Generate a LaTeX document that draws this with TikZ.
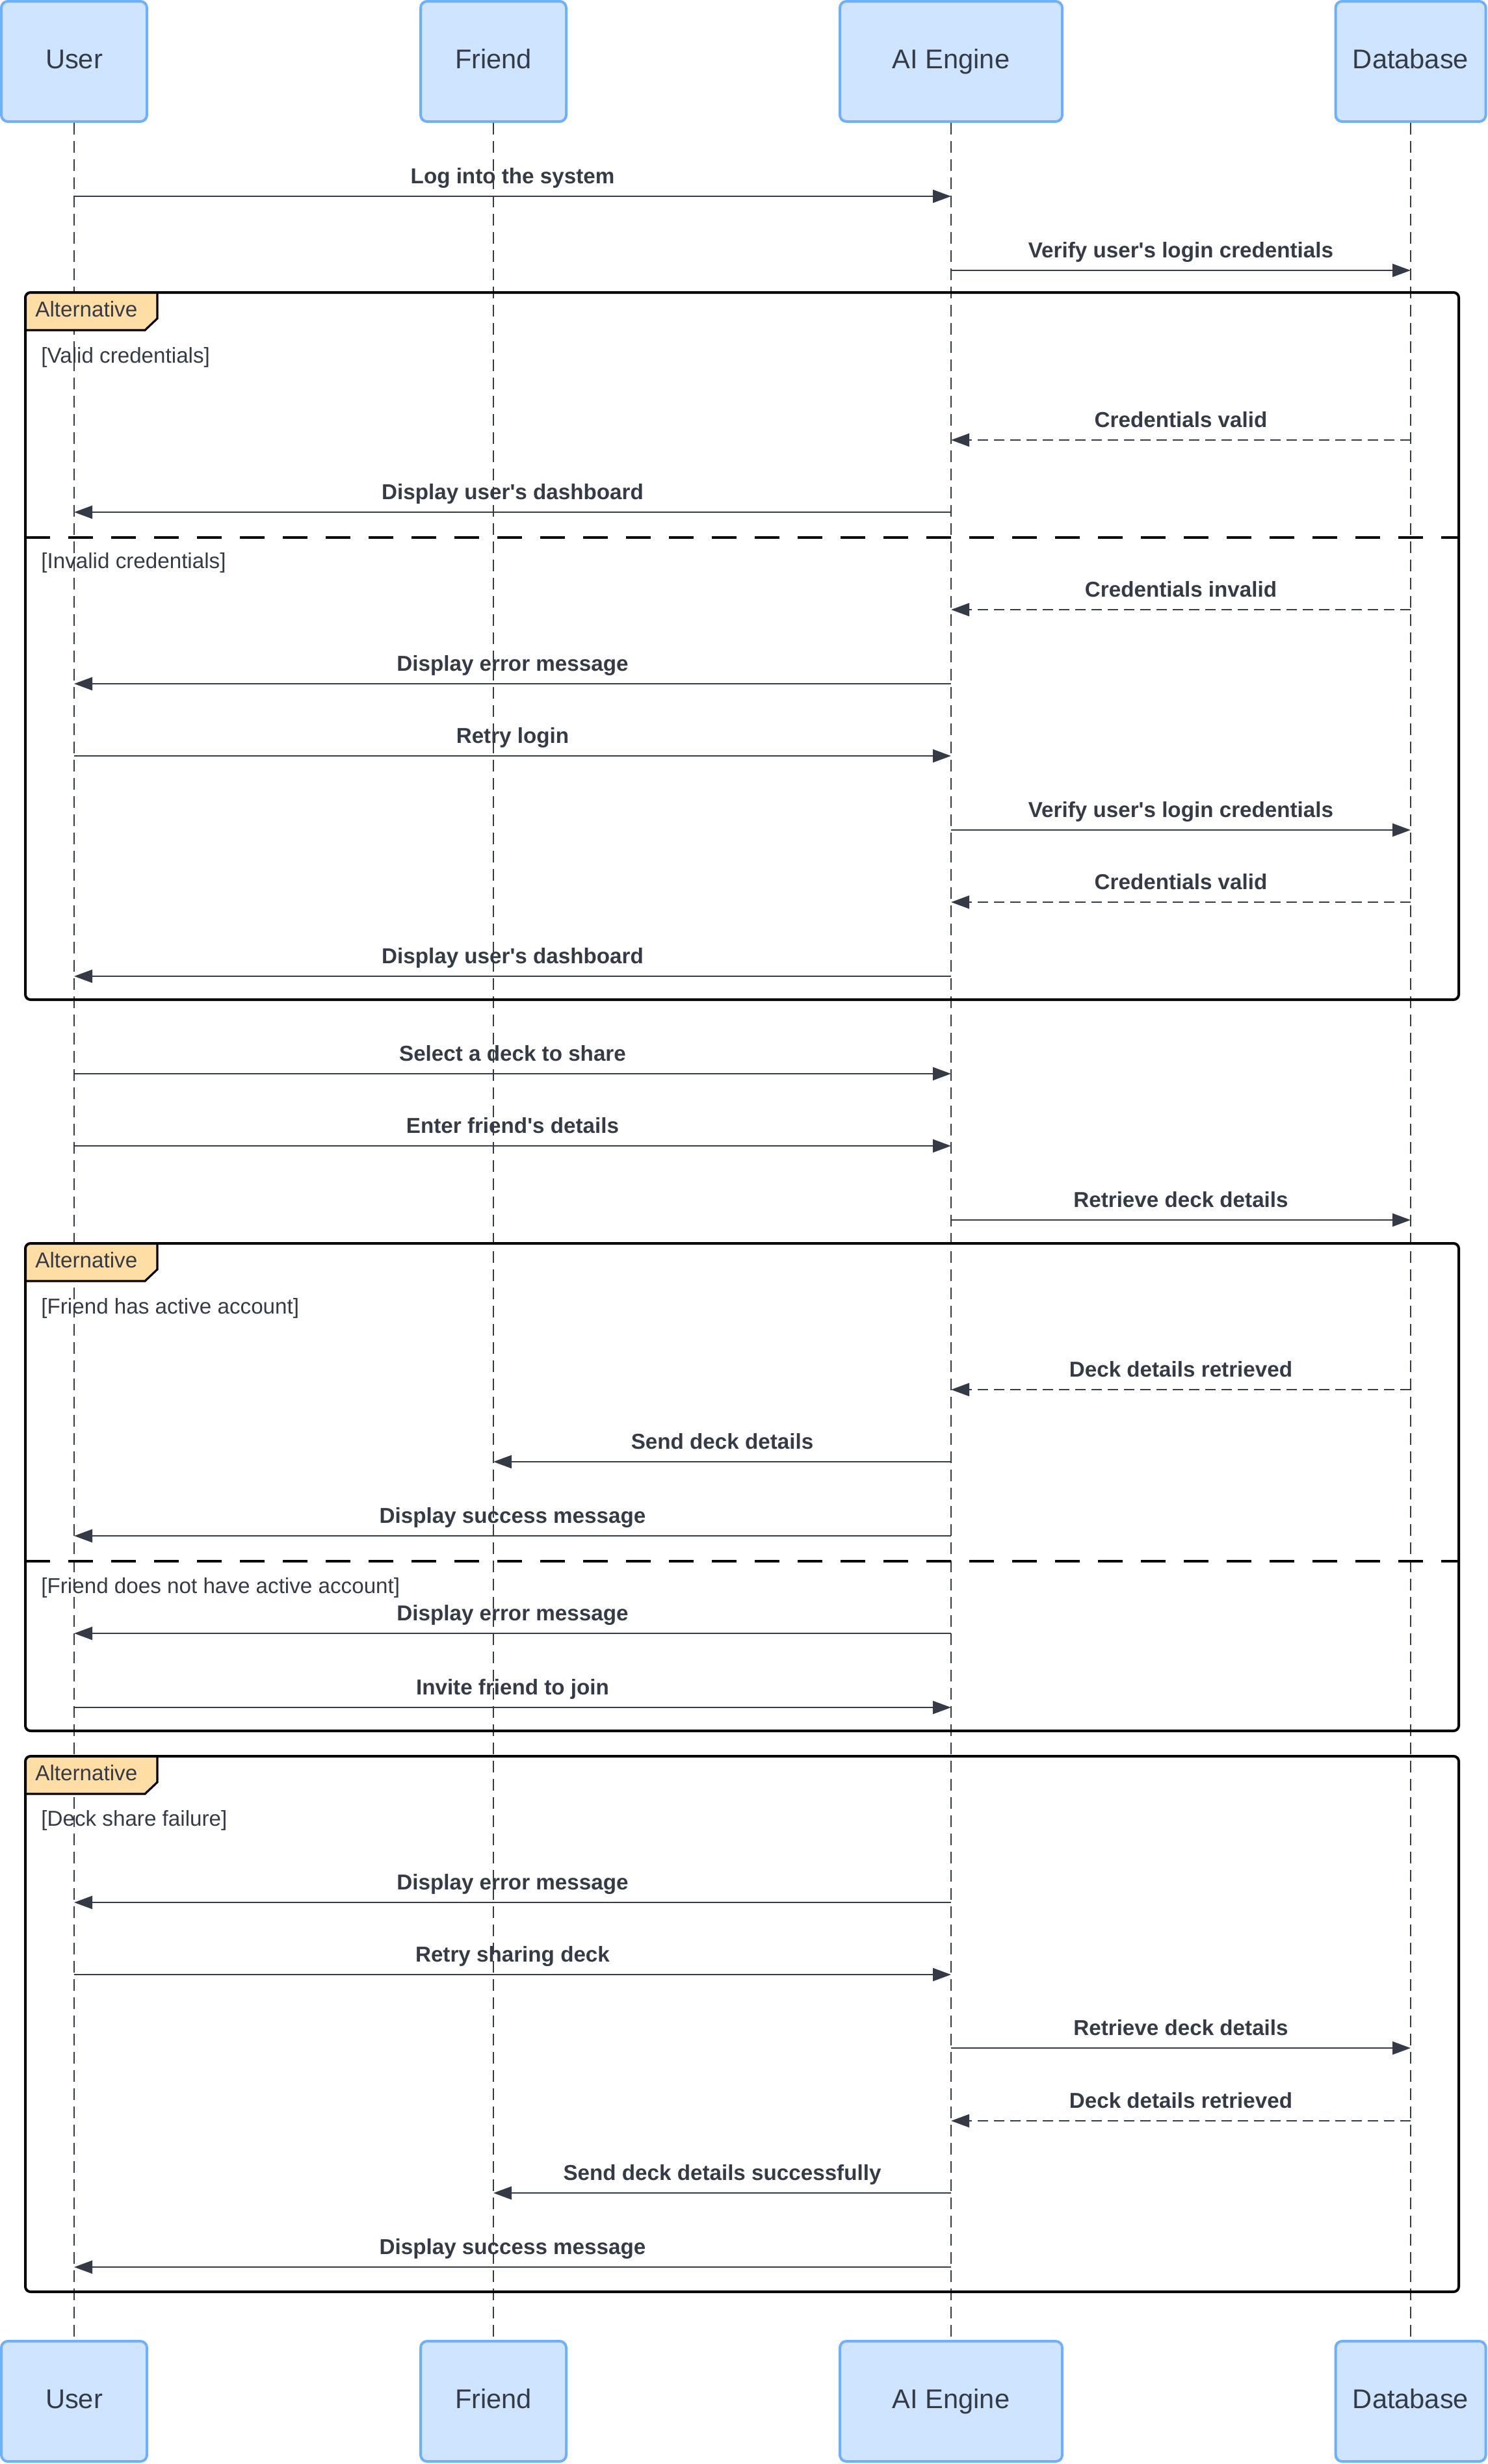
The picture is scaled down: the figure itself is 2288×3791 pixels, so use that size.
\documentclass[tikz,border=0pt]{standalone}
\usepackage{fontspec}
\setmainfont{Liberation Sans}
\usetikzlibrary{arrows.meta}

\definecolor{ink}{HTML}{353B46}
\definecolor{boxfill}{HTML}{CFE4FF}
\definecolor{boxline}{HTML}{6DB0FF}
\definecolor{tabfill}{HTML}{FFDEA6}

\tikzset{
  actor/.style={draw=boxline, fill=boxfill, line width=2pt, rounded corners=5pt,
    minimum height=92.5pt, text=ink, font=\fontsize{20.8}{24}\selectfont,
    text height=10.8pt, text depth=0pt, inner sep=0pt},
  lifeline/.style={draw=ink, line width=0.9pt, dash pattern=on 9pt off 5pt},
  msg/.style={draw=ink, line width=1.2pt, -{Triangle[length=14pt,width=10pt]}},
  reply/.style={msg, dash pattern=on 8pt off 4.5pt},
  msglabel/.style={anchor=base, yshift=10pt, text=ink,
    font=\fontsize{16.6}{20}\selectfont\bfseries, inner sep=0pt},
  frame/.style={draw=black, line width=2pt, rounded corners=4pt},
  tabedge/.style={draw=black, line width=1.6pt},
  divider/.style={draw=black, line width=2.2pt, dash pattern=on 19pt off 14pt},
  cond/.style={anchor=base west, text=ink, font=\fontsize{16.6}{19}\selectfont, inner sep=0pt},
}

% message: [style]{y}{from}{to}{label}
\newcommand{\seqmsg}[5][msg]{%
  \draw[#1] (#3 |- 0,#2) -- node[msglabel] (L#2) {#5} (#4 |- 0,#2);}

% alt fragment: {name}{top}{bottom}
\newcommand{\altframe}[3]{%
  \fill[tabfill, rounded corners=4pt] (39,#2+29) -- (39,#2) -- (242,#2)
    [sharp corners] -- (242,#2+40) -- (223,#2+58) -- (39,#2+58) -- cycle;
  \draw[tabedge] (242,#2) -- (242,#2+40) -- (223,#2+58) -- (39,#2+58);
  \draw[frame] (39,#2) rectangle (2244,#3);
  \node[cond] (#1) at (54,#2+37) {Alternative};}

\newcommand{\apos}{\textquotesingle}

\begin{document}
\begin{tikzpicture}[x=0.5pt,y=-0.5pt]
  \useasboundingbox (0,0) rectangle (2288,3791);

  % participants, top and bottom
  \node[actor, minimum width=112pt]   (uT) at (114,94.5)  {User};
  \node[actor, minimum width=112pt]   (fT) at (759,94.5)  {Friend};
  \node[actor, minimum width=171pt]   (aT) at (1463,94.5) {AI Engine};
  \node[actor, minimum width=115.5pt] (dT) at (2170,94.5) {Database};

  \node[actor, minimum width=112pt]   (uB) at (114,3694.5)  {User};
  \node[actor, minimum width=112pt]   (fB) at (759,3694.5)  {Friend};
  \node[actor, minimum width=171pt]   (aB) at (1463,3694.5) {AI Engine};
  \node[actor, minimum width=115.5pt] (dB) at (2170,3694.5) {Database};

  % lifelines
  \draw[lifeline] (uT.south) -- (uB.north);
  \draw[lifeline] (fT.south) -- (fB.north);
  \draw[lifeline] (aT.south) -- (aB.north);
  \draw[lifeline] (dT.south) -- (dB.north);

  % fragments
  \altframe{alt1}{450}{1538}
  \altframe{alt2}{1913}{2663}
  \altframe{alt3}{2702}{3526}
  \draw[divider] (39,827) -- (2244,827);
  \draw[divider] (39,2402) -- (2244,2402);

  \node[cond] (c1) at (63,558)  {[Valid credentials]};
  \node[cond] (c2) at (63,874)  {[Invalid credentials]};
  \node[cond] (c3) at (63,2021) {[Friend has active account]};
  \node[cond] (c4) at (63,2451) {[Friend does not have active account]};
  \node[cond] (c5) at (63,2809) {[Deck share failure]};

  % messages
  \seqmsg{302}{uT}{aT}{Log into the system}
  \seqmsg{416}{aT}{dT}{Verify user\apos s login credentials}
  \seqmsg[reply]{677}{dT}{aT}{Credentials valid}
  \seqmsg{788}{aT}{uT}{Display user\apos s dashboard}
  \seqmsg[reply]{938}{dT}{aT}{Credentials invalid}
  \seqmsg{1052}{aT}{uT}{Display error message}
  \seqmsg{1163}{uT}{aT}{Retry login}
  \seqmsg{1277}{aT}{dT}{Verify user\apos s login credentials}
  \seqmsg[reply]{1388}{dT}{aT}{Credentials valid}
  \seqmsg{1502}{aT}{uT}{Display user\apos s dashboard}
  \seqmsg{1652}{uT}{aT}{Select a deck to share}
  \seqmsg{1763}{uT}{aT}{Enter friend\apos s details}
  \seqmsg{1877}{aT}{dT}{Retrieve deck details}
  \seqmsg[reply]{2138}{dT}{aT}{Deck details retrieved}
  \seqmsg{2249}{aT}{fT}{Send deck details}
  \seqmsg{2363}{aT}{uT}{Display success message}
  \seqmsg{2513}{aT}{uT}{Display error message}
  \seqmsg{2627}{uT}{aT}{Invite friend to join}
  \seqmsg{2927}{aT}{uT}{Display error message}
  \seqmsg{3038}{uT}{aT}{Retry sharing deck}
  \seqmsg{3151}{aT}{dT}{Retrieve deck details}
  \seqmsg[reply]{3263}{dT}{aT}{Deck details retrieved}
  \seqmsg{3374}{aT}{fT}{Send deck details successfully}
  \seqmsg{3488}{aT}{uT}{Display success message}
\end{tikzpicture}
\end{document}
